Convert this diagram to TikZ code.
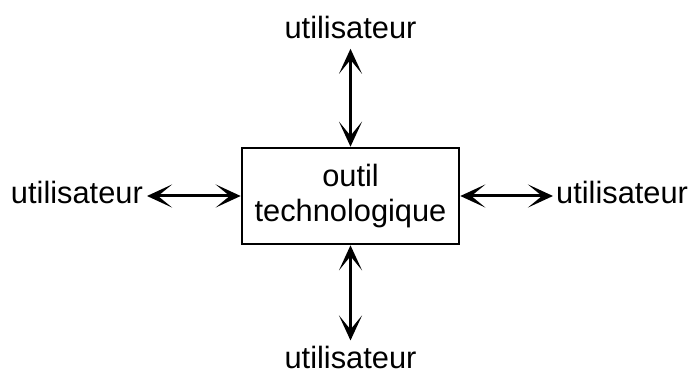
\documentclass[tikz,border=0pt]{standalone}
\usepackage{fontspec}
\setmainfont{Liberation Sans}
\usetikzlibrary{arrows.meta}
\tikzset{
  lbl/.style={inner sep=0pt, font=\fontsize{30.8}{35}\selectfont},
  boxnode/.style={draw, line width=2.6pt, minimum width=217pt, minimum height=96pt, inner sep=0pt, align=center, font=\fontsize{30.8}{35}\selectfont},
  arr/.style={line width=3pt, {Stealth[length=25pt,width=23pt,inset=14pt]}-{Stealth[length=25pt,width=23pt,inset=14pt]}}
}
\begin{document}
\begin{tikzpicture}[x=1pt,y=1pt]
\useasboundingbox (0,0) rectangle (693,372);
\node[boxnode] (box) at (350.5,176) {outil\\technologique};
\node[lbl, anchor=base] (T) at (350.5,333.7) {utilisateur};
\node[lbl, anchor=base] (B) at (350.5,4) {utilisateur};
\node[lbl, anchor=base east] (L) at (143,168.7) {utilisateur};
\node[lbl, anchor=base west] (R) at (556,168.7) {utilisateur};
\draw[arr, shorten <=10pt] (box.north |- T.south) -- (box.north);
\draw[arr, shorten >=5pt] (box.south) -- (box.south |- B.north);
\draw[arr, shorten <=4pt] (L.east |- box.west) -- (box.west);
\draw[arr, shorten >=3pt] (box.east) -- (R.west |- box.east);
\end{tikzpicture}
\end{document}
